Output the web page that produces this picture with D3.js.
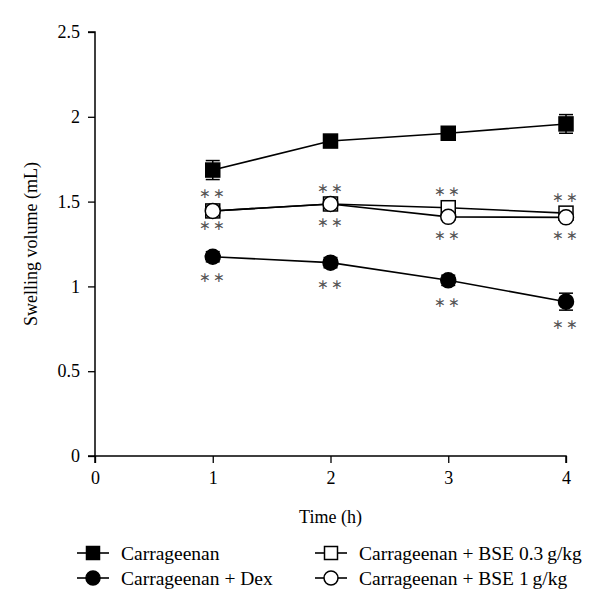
<!DOCTYPE html>
<html>
<head>
<meta charset="utf-8">
<script src="https://cdn.jsdelivr.net/npm/d3@7"></script>
<style>
  body { margin: 0; background: #fff; }
  svg { display: block; }
  text { font-family: "Liberation Serif", "Times New Roman", serif; fill: #000; }
</style>
</head>
<body>
<svg id="chart" width="600" height="604"></svg>
<script>
// ---- Data ----
const times = [1, 2, 3, 4];
const seriesNames = ["Carrageenan", "Carrageenan + Dex", "Carrageenan + BSE 0.3\u2009g/kg", "Carrageenan + BSE 1\u2009g/kg"];
const carrageenan = [1.686, 1.857, 1.903, 1.958];
const carrageenanErr = [0.056, 0.03, 0.03, 0.055];
const dex = [1.175, 1.14, 1.036, 0.91];
const dexErr = [0.03, 0.03, 0.03, 0.05];
const bse03 = [1.445, 1.486, 1.464, 1.432];
const bse03Err = [0.02, 0.02, 0.02, 0.02];
const bse1 = [1.445, 1.486, 1.41, 1.407];
const bse1Err = [0.02, 0.02, 0.02, 0.02];
const xTicks = [0, 1, 2, 3, 4];
const yTicks = [0, 0.5, 1, 1.5, 2, 2.5];
// significance marks: [time, value position]
const sigMarks = [
  [1, 1.546], [1, 1.357], [1, 1.054],
  [2, 1.580], [2, 1.378], [2, 1.010],
  [3, 1.561], [3, 1.303], [3, 0.904],
  [4, 1.524], [4, 1.303], [4, 0.776]
];

const series = [
  { name: seriesNames[0], values: carrageenan, err: carrageenanErr, shape: "square", fill: "#000" },
  { name: seriesNames[1], values: dex, err: dexErr, shape: "circle", fill: "#000" },
  { name: seriesNames[2], values: bse03, err: bse03Err, shape: "square", fill: "#fff" },
  { name: seriesNames[3], values: bse1, err: bse1Err, shape: "circle", fill: "#fff" }
];

// ---- Layout ----
const svg = d3.select("#chart");
const x = d3.scaleLinear().domain([0, 4]).range([95, 566]);
const y = d3.scaleLinear().domain([0, 2.5]).range([456, 32]);

// Axes
const yAxis = svg.append("g").attr("transform", `translate(${x(0)},0)`)
  .call(d3.axisLeft(y).tickValues(yTicks).tickSize(7).tickPadding(8).tickFormat(d3.format("")));
const xAxis = svg.append("g").attr("transform", `translate(0,${y(0)})`)
  .call(d3.axisBottom(x).tickValues(xTicks).tickSize(7).tickPadding(8).tickFormat(d3.format("d")));
[yAxis, xAxis].forEach(a => {
  a.select(".domain").attr("stroke", "#000").attr("stroke-width", 1.5);
  a.selectAll(".tick line").attr("stroke", "#000").attr("stroke-width", 1.3);
  a.selectAll(".tick text").attr("font-family", "Liberation Serif, serif").attr("font-size", 18).attr("fill", "#000");
});
yAxis.select(".domain").attr("d", `M-7,${y(2.5)}H0V${y(0)}H-7`);
xAxis.select(".domain").attr("d", `M${x(0)},7V0H${x(4)}V7`);

// Axis titles
svg.append("text").attr("x", (x(0) + x(4)) / 2).attr("y", 523)
  .attr("text-anchor", "middle").attr("font-size", 18).text("Time (h)");
svg.append("text").attr("transform", `translate(37,${(y(0) + y(2.5)) / 2}) rotate(-90)`)
  .attr("text-anchor", "middle").attr("font-size", 18).text("Swelling volume (mL)");

// Marker helper
const MS = 14;
function drawMarker(g, shape, fill, cx, cy, size) {
  if (shape === "square") {
    g.append("rect").attr("x", cx - size / 2).attr("y", cy - size / 2)
      .attr("width", size).attr("height", size)
      .attr("fill", fill).attr("stroke", "#000").attr("stroke-width", 1.5);
  } else {
    g.append("circle").attr("cx", cx).attr("cy", cy).attr("r", size / 2 + 0.5)
      .attr("fill", fill).attr("stroke", "#000").attr("stroke-width", 1.5);
  }
}

const line = d3.line().x((d, i) => x(times[i])).y(d => y(d));
const plot = svg.append("g");

// Lines first
series.forEach(s => {
  plot.append("path").datum(s.values).attr("d", line)
    .attr("fill", "none").attr("stroke", "#000").attr("stroke-width", 1.6);
});
// Error bars + markers per series
series.forEach(s => {
  const g = plot.append("g");
  s.values.forEach((v, i) => {
    const cx = x(times[i]);
    const y1 = y(v + s.err[i]), y2 = y(v - s.err[i]);
    g.append("line").attr("x1", cx).attr("x2", cx).attr("y1", y1).attr("y2", y2)
      .attr("stroke", "#000").attr("stroke-width", 1.5);
    [y1, y2].forEach(yy => g.append("line").attr("x1", cx - 7).attr("x2", cx + 7)
      .attr("y1", yy).attr("y2", yy).attr("stroke", "#000").attr("stroke-width", 1.5));
    drawMarker(g, s.shape, s.fill, cx, y(v), MS);
  });
});

// Significance marks
svg.append("g").attr("opacity", 0.999).selectAll("text").data(sigMarks).join("text")
  .attr("x", d => x(d[0])).attr("y", d => y(d[1]))
  .attr("text-anchor", "middle").attr("dominant-baseline", "central")
  .attr("font-family", "DejaVu Sans, sans-serif").attr("font-size", 14)
  .attr("letter-spacing", 2).style("fill", "#555")
  .text("\u2217\u2217");

// Legend
const legendPos = [
  { lx: 77, tx: 121, ly: 553 },
  { lx: 77, tx: 121, ly: 578 },
  { lx: 315, tx: 359, ly: 553 },
  { lx: 315, tx: 359, ly: 578 }
];
series.forEach((s, i) => {
  const p = legendPos[i];
  const g = svg.append("g");
  g.append("line").attr("x1", p.lx).attr("x2", p.lx + 32).attr("y1", p.ly).attr("y2", p.ly)
    .attr("stroke", "#000").attr("stroke-width", 1.6);
  drawMarker(g, s.shape, s.fill, p.lx + 16, p.ly, 13);
  g.append("text").attr("x", p.tx).attr("y", p.ly).attr("dominant-baseline", "central")
    .attr("font-size", 19.5).text(s.name);
});
</script>
</body>
</html>
